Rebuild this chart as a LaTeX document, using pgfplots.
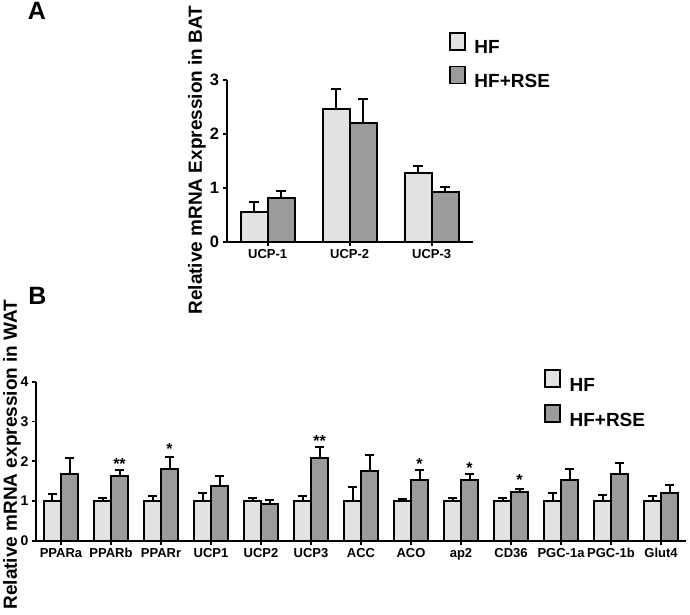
\documentclass[border=0pt]{standalone}
\usepackage{pgfplots}
\pgfplotsset{compat=1.18}
\usepackage{pgfplotstable}
\usepackage{fontspec}
\setmainfont{Liberation Sans}
\definecolor{hfc}{RGB}{225,227,225}
\definecolor{rsec}{RGB}{155,155,155}

\pgfplotstableread{
x   hf   hfe   rse   rsee
0.5 0.56 0.17  0.82  0.12
1.5 2.46 0.38  2.20  0.45
2.5 1.28 0.13  0.93  0.08
}\bat

\pgfplotstableread{
x    hf   hfe   rse   rsee
0.5  1.00 0.18  1.68  0.40
1.5  1.00 0.09  1.63  0.15
2.5  1.00 0.14  1.80  0.31
3.5  1.00 0.20  1.37  0.26
4.5  1.00 0.09  0.93  0.10
5.5  1.00 0.14  2.09  0.28
6.5  1.00 0.35  1.77  0.39
7.5  1.00 0.06  1.53  0.25
8.5  1.00 0.09  1.53  0.15
9.5  1.00 0.08  1.24  0.06
10.5 1.00 0.21  1.52  0.28
11.5 1.00 0.16  1.68  0.29
12.5 1.00 0.14  1.20  0.20
}\wat

\pgfplotsset{
  prism/.style={
    scale only axis, clip=false,
    axis x line*=bottom, axis y line*=left,
    axis line style={line width=2pt, black},
    tick style={line width=1.8pt, black},
    major tick length=4pt, tick align=outside,
    /pgf/number format/assume math mode=true,
    ybar=0pt,
    legend cell align=left,
    legend image code/.code={\draw[#1, line width=1.8pt] (0pt,-1.7pt) rectangle (15pt,15.3pt); \path (23.7pt,0pt);},
  },
  bbar/.style={draw=black, line width=2pt,
    /pgfplots/error bars/y dir=plus, /pgfplots/error bars/y explicit,
    /pgfplots/error bars/error mark=|,
    /pgfplots/error bars/error bar style={line width=2pt, black},
    /pgfplots/error bars/error mark options={line width=2pt, black, mark size=#1}},
}

\begin{document}
\begin{tikzpicture}
\useasboundingbox (0,0) rectangle (690pt,614pt);

% Panel labels
\node[font=\fontsize{25}{25}\selectfont\bfseries] at (37pt,603pt) {A};
\node[font=\fontsize{25}{25}\selectfont\bfseries] at (37.5pt,318pt) {B};

% y labels
\node[rotate=90, font=\fontsize{19}{19}\selectfont\bfseries] at (197pt,454pt) {Relative mRNA Expression in BAT};
\node[rotate=90, font=\fontsize{19}{19}\selectfont\bfseries] at (12pt,159.5pt) {Relative mRNA expression in WAT};

% Panel A
\begin{axis}[prism,
  at={(226.7pt,372.3pt)}, anchor=south west,
  width=246pt, height=161.7pt,
  xmin=0, xmax=3, ymin=0, ymax=3,
  bar width=27pt,
  ytick={0,1,2,3},
  yticklabel={\fontsize{16.5}{16.5}\selectfont\bfseries\pgfmathprintnumber{\tick}},
  xtick={0.5,1.5,2.5},
  xticklabels={UCP-1,UCP-2,UCP-3},
  xticklabel style={font=\fontsize{13}{13}\selectfont\bfseries},
  legend style={draw=none, fill=none, at={(axis cs:2.709,3.896)}, anchor=north west,
    inner sep=0pt, outer sep=0pt, row sep=10.5pt,
    font=\fontsize{19}{19}\selectfont\bfseries,
    nodes={inner sep=0pt}},
]
\addplot[fill=hfc, bbar=5pt] table[x=x, y=hf, y error=hfe] {\bat};
\addlegendentry{HF}
\addplot[fill=rsec, bbar=5pt] table[x=x, y=rse, y error=rsee] {\bat};
\addlegendentry{HF+RSE}
\end{axis}

% Panel B
\begin{axis}[prism,
  at={(36pt,73pt)}, anchor=south west,
  width=650pt, height=159.3pt,
  xmin=0, xmax=13, ymin=0, ymax=4,
  bar width=17pt,
  ytick={0,1,2,3,4},
  yticklabel={\fontsize{14}{14}\selectfont\bfseries\pgfmathprintnumber{\tick}},
  xtick={0.5,1.5,...,12.5},
  xticklabels={PPARa,PPARb,PPARr,UCP1,UCP2,UCP3,ACC,ACO,ap2,CD36,PGC-1a,PGC-1b,Glut4},
  xticklabel style={font=\fontsize{13}{13}\selectfont\bfseries},
  legend style={draw=none, fill=none, at={(axis cs:10.16,4.31)}, anchor=north west,
    inner sep=0pt, outer sep=0pt, row sep=11.5pt,
    font=\fontsize{19}{19}\selectfont\bfseries,
    nodes={inner sep=0pt}},
]
\addplot[fill=hfc, bbar=4.5pt] table[x=x, y=hf, y error=hfe] {\wat};
\addlegendentry{HF}
\addplot[fill=rsec, bbar=4.5pt] table[x=x, y=rse, y error=rsee] {\wat};
\addlegendentry{HF+RSE}
\begin{scope}[every node/.style={anchor=base, font=\fontsize{16}{16}\selectfont\bfseries, inner sep=0pt}]
\node at (axis cs:1.67,1.80) {**};
\node at (axis cs:2.67,2.16) {*};
\node at (axis cs:5.67,2.37) {**};
\node at (axis cs:7.67,1.80) {*};
\node at (axis cs:8.67,1.70) {*};
\node at (axis cs:9.67,1.39) {*};
\end{scope}
\end{axis}
\end{tikzpicture}
\end{document}
